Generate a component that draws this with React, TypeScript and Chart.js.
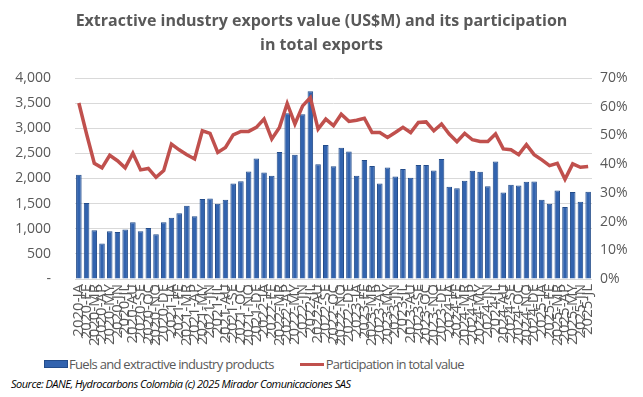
import React, { useEffect, useRef } from "react";
import { Chart, registerables } from "chart.js";

Chart.register(...registerables);

const monthCodes = ["JA", "FE", "MR", "AP", "MY", "JN", "JL", "AU", "SE", "OC", "NO", "DE"];
const years = [2020, 2021, 2022, 2023, 2024, 2025];
const categories: string[] = [];
years.forEach((y) => {
  monthCodes.forEach((m, i) => {
    if (y === 2025 && i > 6) return;
    categories.push(`${y}-${m}`);
  });
});

const fuelsExports = [
  2073, 1511, 970, 707, 950, 937, 984, 1129, 950, 1017, 890, 1129,
  1221, 1307, 1459, 1248, 1590, 1604, 1498, 1578, 1901, 1947, 2139, 2396,
  2119, 2053, 2528, 3300, 2475, 3280, 3736, 2284, 2667, 2244, 2614, 2535,
  2053, 2370, 2251, 1901, 2218, 2040, 2191, 2013, 2271, 2271, 2158, 2390,
  1835, 1808, 1954, 2152, 2132, 1848, 2337, 1723, 1875, 1861, 1934, 1941,
  1578, 1498, 1762, 1432, 1729, 1538, 1736,
];

const participation = [
  61.3, 50.5, 40.3, 38.7, 43.1, 41.2, 38.7, 43.8, 38.0, 38.5, 35.4, 37.8,
  47.0, 45.0, 43.3, 41.8, 51.6, 50.7, 44.1, 45.8, 50.2, 51.4, 51.4, 52.8,
  55.7, 48.8, 52.8, 61.1, 54.0, 60.3, 63.2, 52.2, 55.7, 53.4, 57.4, 54.9,
  55.3, 56.0, 51.0, 51.0, 49.3, 51.0, 52.8, 51.0, 54.5, 54.7, 51.6, 54.0,
  50.5, 47.8, 50.7, 48.5, 47.9, 47.9, 50.5, 45.3, 45.0, 43.3, 46.8, 43.3,
  41.5, 39.5, 40.3, 34.7, 40.1, 38.9, 39.2,
];

const titleLines = ["Extractive industry exports value (US$M) and its participation", "in total exports"];
const barLabel = "Fuels and extractive industry products";
const lineLabel = "Participation in total value";
const sourceText = "Source: DANE, Hydrocarbons Colombia (c) 2025 Mirador Comunicaciones SAS";

const FONT = "'Open Sans', 'DejaVu Sans', sans-serif";
const GRAY = "#595959";
const BAR_COLOR = "#3263AE";
const LINE_COLOR = "#C0504D";

export default function App() {
  const canvasRef = useRef<HTMLCanvasElement | null>(null);

  useEffect(() => {
    if (!canvasRef.current) return;
    const chart = new Chart(canvasRef.current, {
      type: "bar",
      data: {
        labels: categories,
        datasets: [
          {
            type: "line",
            label: lineLabel,
            data: participation,
            yAxisID: "y1",
            borderColor: LINE_COLOR,
            backgroundColor: LINE_COLOR,
            borderWidth: 3.5,
            pointRadius: 0,
            tension: 0,
            order: 0,
          },
          {
            type: "bar",
            label: barLabel,
            data: fuelsExports,
            yAxisID: "y",
            backgroundColor: BAR_COLOR,
            borderColor: "#234C8A",
            borderWidth: 1,
            barPercentage: 0.72,
            categoryPercentage: 1,
            order: 1,
          },
        ],
      },
      options: {
        animation: false,
        responsive: true,
        maintainAspectRatio: false,
        layout: { padding: { left: 0, right: 0, top: 1, bottom: 0 } },
        plugins: {
          legend: { display: false },
          tooltip: { enabled: false },
          title: {
            display: true,
            text: titleLines,
            color: GRAY,
            font: { family: FONT, size: 16, weight: "bold", lineHeight: 1.5 },
            padding: { top: 0, bottom: 21 },
          },
        },
        scales: {
          x: {
            grid: { display: false, drawTicks: false },
            border: { display: false },
            ticks: {
              autoSkip: false,
              maxRotation: 90,
              minRotation: 90,
              color: GRAY,
              padding: 5,
              font: { family: FONT, size: 15 },
            },
            afterFit: (scale: any) => {
              scale.height = 74;
            },
          },
          y: {
            position: "left",
            min: 0,
            max: 4000,
            grid: { color: "#D9D9D9", lineWidth: 1, drawTicks: false },
            border: { display: false },
            ticks: {
              stepSize: 500,
              color: GRAY,
              padding: 24,
              font: { family: FONT, size: 14 },
              callback: (v: any) => (Number(v) === 0 ? "-" : Number(v).toLocaleString("en-US")),
            },
            afterFit: (scale: any) => {
              scale.width = 67;
            },
          },
          y1: {
            position: "right",
            min: 0,
            max: 70,
            grid: { display: false, drawTicks: false },
            border: { display: false },
            ticks: {
              stepSize: 10,
              color: GRAY,
              padding: 8,
              font: { family: FONT, size: 14 },
              callback: (v: any) => `${v}%`,
            },
            afterFit: (scale: any) => {
              scale.width = 43;
            },
          },
        },
      } as any,
    });
    return () => chart.destroy();
  }, []);

  return (
    <div style={{ width: 627, fontFamily: FONT }}>
      <div style={{ position: "relative", width: 627, height: 345 }}>
        <canvas ref={canvasRef} />
      </div>
      <div
        style={{
          display: "flex",
          alignItems: "center",
          height: 22,
          fontSize: 13,
          fontWeight: 500,
          color: GRAY,
          letterSpacing: -0.7,
          whiteSpace: "nowrap",
        }}
      >
        <span style={{ display: "inline-block", width: 22, height: 6, background: BAR_COLOR, border: "1px solid #234C8A", marginLeft: 36, marginRight: 1 }} />
        <span>{barLabel}</span>
        <span style={{ display: "inline-block", width: 24, height: 3, background: LINE_COLOR, marginLeft: 26, marginRight: 2 }} />
        <span>{lineLabel}</span>
      </div>
      <div
        style={{
          fontSize: 11,
          fontStyle: "italic",
          color: "#000",
          marginLeft: 3,
          marginTop: 1,
          letterSpacing: -0.5,
          whiteSpace: "nowrap",
        }}
      >
        {sourceText}
      </div>
    </div>
  );
}
